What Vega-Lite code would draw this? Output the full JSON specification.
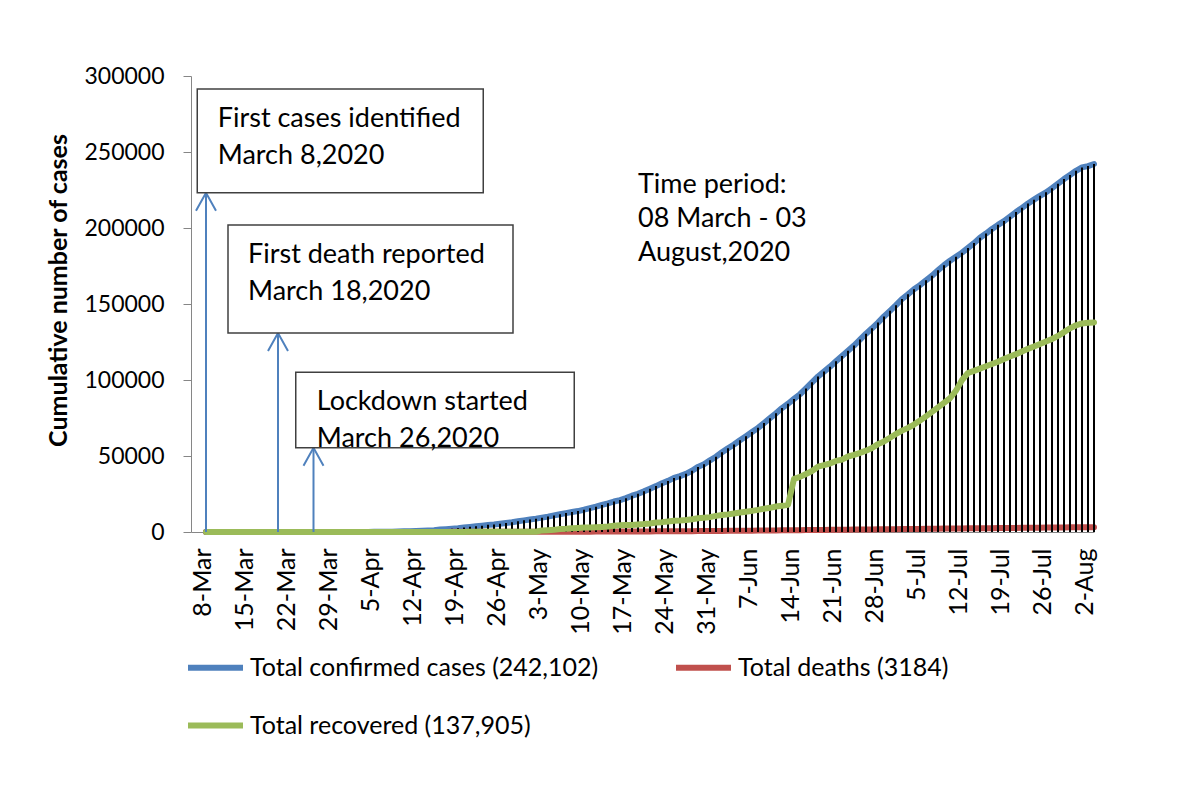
{
  "$schema": "https://vega.github.io/schema/vega-lite/v6.json",
  "width": 903,
  "height": 456,
  "autosize": {"type": "none"},
  "padding": {"left": 191, "top": 76, "right": 98, "bottom": 264},
  "background": "white",
  "config": {
    "font": "Lato",
    "view": {"stroke": null},
    "axis": {"labelFont": "Lato", "labelColor": "black", "domainColor": "#868686", "tickColor": "#868686", "grid": false}
  },
  "datasets": {
    "covid": [
      {"date":"2020-03-08","confirmed":3,"deaths":0,"recovered":0},
      {"date":"2020-03-09","confirmed":3,"deaths":0,"recovered":0},
      {"date":"2020-03-10","confirmed":3,"deaths":0,"recovered":0},
      {"date":"2020-03-11","confirmed":3,"deaths":0,"recovered":0},
      {"date":"2020-03-12","confirmed":3,"deaths":0,"recovered":0},
      {"date":"2020-03-13","confirmed":3,"deaths":0,"recovered":0},
      {"date":"2020-03-14","confirmed":3,"deaths":0,"recovered":0},
      {"date":"2020-03-15","confirmed":5,"deaths":0,"recovered":3},
      {"date":"2020-03-16","confirmed":8,"deaths":0,"recovered":3},
      {"date":"2020-03-17","confirmed":10,"deaths":0,"recovered":3},
      {"date":"2020-03-18","confirmed":14,"deaths":1,"recovered":3},
      {"date":"2020-03-19","confirmed":17,"deaths":1,"recovered":3},
      {"date":"2020-03-20","confirmed":20,"deaths":1,"recovered":3},
      {"date":"2020-03-21","confirmed":24,"deaths":2,"recovered":3},
      {"date":"2020-03-22","confirmed":27,"deaths":2,"recovered":3},
      {"date":"2020-03-23","confirmed":33,"deaths":3,"recovered":5},
      {"date":"2020-03-24","confirmed":39,"deaths":4,"recovered":7},
      {"date":"2020-03-25","confirmed":39,"deaths":5,"recovered":7},
      {"date":"2020-03-26","confirmed":44,"deaths":5,"recovered":11},
      {"date":"2020-03-27","confirmed":48,"deaths":5,"recovered":15},
      {"date":"2020-03-28","confirmed":48,"deaths":5,"recovered":15},
      {"date":"2020-03-29","confirmed":48,"deaths":5,"recovered":15},
      {"date":"2020-03-30","confirmed":49,"deaths":5,"recovered":19},
      {"date":"2020-03-31","confirmed":51,"deaths":5,"recovered":25},
      {"date":"2020-04-01","confirmed":54,"deaths":6,"recovered":25},
      {"date":"2020-04-02","confirmed":56,"deaths":6,"recovered":25},
      {"date":"2020-04-03","confirmed":61,"deaths":6,"recovered":26},
      {"date":"2020-04-04","confirmed":70,"deaths":8,"recovered":30},
      {"date":"2020-04-05","confirmed":88,"deaths":9,"recovered":33},
      {"date":"2020-04-06","confirmed":123,"deaths":12,"recovered":33},
      {"date":"2020-04-07","confirmed":164,"deaths":17,"recovered":33},
      {"date":"2020-04-08","confirmed":218,"deaths":20,"recovered":33},
      {"date":"2020-04-09","confirmed":330,"deaths":21,"recovered":33},
      {"date":"2020-04-10","confirmed":424,"deaths":27,"recovered":33},
      {"date":"2020-04-11","confirmed":482,"deaths":30,"recovered":36},
      {"date":"2020-04-12","confirmed":621,"deaths":34,"recovered":39},
      {"date":"2020-04-13","confirmed":803,"deaths":39,"recovered":42},
      {"date":"2020-04-14","confirmed":1012,"deaths":46,"recovered":42},
      {"date":"2020-04-15","confirmed":1231,"deaths":50,"recovered":49},
      {"date":"2020-04-16","confirmed":1572,"deaths":60,"recovered":49},
      {"date":"2020-04-17","confirmed":1838,"deaths":75,"recovered":58},
      {"date":"2020-04-18","confirmed":2144,"deaths":84,"recovered":66},
      {"date":"2020-04-19","confirmed":2456,"deaths":91,"recovered":75},
      {"date":"2020-04-20","confirmed":2948,"deaths":101,"recovered":75},
      {"date":"2020-04-21","confirmed":3382,"deaths":110,"recovered":85},
      {"date":"2020-04-22","confirmed":3772,"deaths":120,"recovered":92},
      {"date":"2020-04-23","confirmed":4186,"deaths":127,"recovered":108},
      {"date":"2020-04-24","confirmed":4689,"deaths":131,"recovered":112},
      {"date":"2020-04-25","confirmed":4998,"deaths":140,"recovered":113},
      {"date":"2020-04-26","confirmed":5416,"deaths":145,"recovered":122},
      {"date":"2020-04-27","confirmed":5913,"deaths":152,"recovered":131},
      {"date":"2020-04-28","confirmed":6462,"deaths":155,"recovered":150},
      {"date":"2020-04-29","confirmed":7103,"deaths":163,"recovered":150},
      {"date":"2020-04-30","confirmed":7667,"deaths":168,"recovered":160},
      {"date":"2020-05-01","confirmed":8238,"deaths":170,"recovered":174},
      {"date":"2020-05-02","confirmed":8790,"deaths":175,"recovered":177},
      {"date":"2020-05-03","confirmed":9455,"deaths":177,"recovered":1063},
      {"date":"2020-05-04","confirmed":10143,"deaths":182,"recovered":1210},
      {"date":"2020-05-05","confirmed":10929,"deaths":183,"recovered":1403},
      {"date":"2020-05-06","confirmed":11719,"deaths":186,"recovered":1910},
      {"date":"2020-05-07","confirmed":12425,"deaths":199,"recovered":2101},
      {"date":"2020-05-08","confirmed":13134,"deaths":206,"recovered":2414},
      {"date":"2020-05-09","confirmed":13770,"deaths":214,"recovered":2650},
      {"date":"2020-05-10","confirmed":14657,"deaths":228,"recovered":2902},
      {"date":"2020-05-11","confirmed":15691,"deaths":239,"recovered":2902},
      {"date":"2020-05-12","confirmed":16660,"deaths":250,"recovered":3147},
      {"date":"2020-05-13","confirmed":17822,"deaths":269,"recovered":3361},
      {"date":"2020-05-14","confirmed":18863,"deaths":283,"recovered":3586},
      {"date":"2020-05-15","confirmed":20065,"deaths":298,"recovered":4117},
      {"date":"2020-05-16","confirmed":20995,"deaths":314,"recovered":4373},
      {"date":"2020-05-17","confirmed":22268,"deaths":328,"recovered":4585},
      {"date":"2020-05-18","confirmed":23870,"deaths":349,"recovered":4585},
      {"date":"2020-05-19","confirmed":25121,"deaths":370,"recovered":4993},
      {"date":"2020-05-20","confirmed":26738,"deaths":386,"recovered":5207},
      {"date":"2020-05-21","confirmed":28511,"deaths":408,"recovered":5602},
      {"date":"2020-05-22","confirmed":30205,"deaths":432,"recovered":6190},
      {"date":"2020-05-23","confirmed":32078,"deaths":452,"recovered":6486},
      {"date":"2020-05-24","confirmed":33610,"deaths":480,"recovered":6901},
      {"date":"2020-05-25","confirmed":35585,"deaths":501,"recovered":7334},
      {"date":"2020-05-26","confirmed":36751,"deaths":522,"recovered":7579},
      {"date":"2020-05-27","confirmed":38292,"deaths":544,"recovered":7925},
      {"date":"2020-05-28","confirmed":40321,"deaths":559,"recovered":8425},
      {"date":"2020-05-29","confirmed":42844,"deaths":582,"recovered":9015},
      {"date":"2020-05-30","confirmed":44608,"deaths":610,"recovered":9375},
      {"date":"2020-05-31","confirmed":47153,"deaths":650,"recovered":9781},
      {"date":"2020-06-01","confirmed":49534,"deaths":672,"recovered":10597},
      {"date":"2020-06-02","confirmed":52445,"deaths":709,"recovered":11120},
      {"date":"2020-06-03","confirmed":55140,"deaths":746,"recovered":11590},
      {"date":"2020-06-04","confirmed":57563,"deaths":781,"recovered":12161},
      {"date":"2020-06-05","confirmed":60391,"deaths":811,"recovered":12804},
      {"date":"2020-06-06","confirmed":63026,"deaths":846,"recovered":13325},
      {"date":"2020-06-07","confirmed":65769,"deaths":888,"recovered":13903},
      {"date":"2020-06-08","confirmed":68504,"deaths":930,"recovered":14560},
      {"date":"2020-06-09","confirmed":71675,"deaths":975,"recovered":15337},
      {"date":"2020-06-10","confirmed":74865,"deaths":1012,"recovered":15899},
      {"date":"2020-06-11","confirmed":78052,"deaths":1049,"recovered":16748},
      {"date":"2020-06-12","confirmed":81523,"deaths":1095,"recovered":17249},
      {"date":"2020-06-13","confirmed":84379,"deaths":1139,"recovered":17827},
      {"date":"2020-06-14","confirmed":87520,"deaths":1171,"recovered":35000},
      {"date":"2020-06-15","confirmed":90619,"deaths":1209,"recovered":36264},
      {"date":"2020-06-16","confirmed":94481,"deaths":1262,"recovered":38189},
      {"date":"2020-06-17","confirmed":98489,"deaths":1305,"recovered":40164},
      {"date":"2020-06-18","confirmed":102292,"deaths":1343,"recovered":42945},
      {"date":"2020-06-19","confirmed":105535,"deaths":1388,"recovered":43993},
      {"date":"2020-06-20","confirmed":108775,"deaths":1425,"recovered":45077},
      {"date":"2020-06-21","confirmed":112306,"deaths":1464,"recovered":46755},
      {"date":"2020-06-22","confirmed":115786,"deaths":1502,"recovered":47635},
      {"date":"2020-06-23","confirmed":119198,"deaths":1545,"recovered":49666},
      {"date":"2020-06-24","confirmed":122660,"deaths":1582,"recovered":50800},
      {"date":"2020-06-25","confirmed":126606,"deaths":1621,"recovered":52100},
      {"date":"2020-06-26","confirmed":130474,"deaths":1661,"recovered":53500},
      {"date":"2020-06-27","confirmed":133978,"deaths":1695,"recovered":55300},
      {"date":"2020-06-28","confirmed":137787,"deaths":1738,"recovered":57800},
      {"date":"2020-06-29","confirmed":141801,"deaths":1783,"recovered":59600},
      {"date":"2020-06-30","confirmed":145483,"deaths":1847,"recovered":62000},
      {"date":"2020-07-01","confirmed":149258,"deaths":1888,"recovered":64500},
      {"date":"2020-07-02","confirmed":153277,"deaths":1926,"recovered":66700},
      {"date":"2020-07-03","confirmed":156391,"deaths":1968,"recovered":68500},
      {"date":"2020-07-04","confirmed":159679,"deaths":1997,"recovered":70700},
      {"date":"2020-07-05","confirmed":162417,"deaths":2052,"recovered":73300},
      {"date":"2020-07-06","confirmed":165618,"deaths":2096,"recovered":76100},
      {"date":"2020-07-07","confirmed":168645,"deaths":2151,"recovered":79000},
      {"date":"2020-07-08","confirmed":172134,"deaths":2197,"recovered":82000},
      {"date":"2020-07-09","confirmed":175494,"deaths":2238,"recovered":85000},
      {"date":"2020-07-10","confirmed":178443,"deaths":2275,"recovered":88000},
      {"date":"2020-07-11","confirmed":181129,"deaths":2305,"recovered":93000},
      {"date":"2020-07-12","confirmed":183795,"deaths":2352,"recovered":100000},
      {"date":"2020-07-13","confirmed":186894,"deaths":2391,"recovered":104600},
      {"date":"2020-07-14","confirmed":190057,"deaths":2424,"recovered":106000},
      {"date":"2020-07-15","confirmed":193590,"deaths":2457,"recovered":107500},
      {"date":"2020-07-16","confirmed":196323,"deaths":2496,"recovered":109000},
      {"date":"2020-07-17","confirmed":199357,"deaths":2547,"recovered":110500},
      {"date":"2020-07-18","confirmed":202066,"deaths":2581,"recovered":112000},
      {"date":"2020-07-19","confirmed":204525,"deaths":2618,"recovered":113800},
      {"date":"2020-07-20","confirmed":207453,"deaths":2651,"recovered":115500},
      {"date":"2020-07-21","confirmed":210510,"deaths":2709,"recovered":117000},
      {"date":"2020-07-22","confirmed":213254,"deaths":2751,"recovered":118800},
      {"date":"2020-07-23","confirmed":216110,"deaths":2801,"recovered":120500},
      {"date":"2020-07-24","confirmed":218658,"deaths":2836,"recovered":122000},
      {"date":"2020-07-25","confirmed":221178,"deaths":2874,"recovered":123700},
      {"date":"2020-07-26","confirmed":223453,"deaths":2928,"recovered":125300},
      {"date":"2020-07-27","confirmed":226225,"deaths":2965,"recovered":127000},
      {"date":"2020-07-28","confirmed":229185,"deaths":3000,"recovered":129000},
      {"date":"2020-07-29","confirmed":232194,"deaths":3035,"recovered":131500},
      {"date":"2020-07-30","confirmed":234889,"deaths":3082,"recovered":134000},
      {"date":"2020-07-31","confirmed":237661,"deaths":3111,"recovered":136000},
      {"date":"2020-08-01","confirmed":239860,"deaths":3132,"recovered":137200},
      {"date":"2020-08-02","confirmed":240746,"deaths":3154,"recovered":137600},
      {"date":"2020-08-03","confirmed":242102,"deaths":3184,"recovered":137905}
    ],
    "boxes": [
      {"date":"2020-03-06T13:00:00Z","date2":"2020-04-23T05:00:00Z","value":291450,"value2":223230},
      {"date":"2020-03-11T16:00:00Z","date2":"2020-04-28T04:00:00Z","value":201970,"value2":130920},
      {"date":"2020-03-22T23:00:00Z","date2":"2020-05-08T09:00:00Z","value":105070,"value2":55460}
    ],
    "arrows": [
      {"date":"2020-03-08T00:00:00Z","value":223230},
      {"date":"2020-03-20T00:00:00Z","value":130920},
      {"date":"2020-03-25T22:00:00Z","value":55460}
    ],
    "notes": [
      {"date":"2020-03-09T23:00:00Z","value":266650,"label":"First cases identified\nMarch 8,2020"},
      {"date":"2020-03-15T00:00:00Z","value":177170,"label":"First death reported\nMarch 18,2020"},
      {"date":"2020-03-26T11:00:00Z","value":80260,"label":"Lockdown started\nMarch 26,2020"}
    ],
    "period": [
      {"date":"2020-05-19T00:00:00Z","value":223030,"label":"Time period:\n08 March - 03\nAugust,2020"}
    ]
  },
  "encoding": {
    "x": {
      "field": "date", "type": "temporal",
      "scale": {"type": "utc", "domain": [{"year":2020,"month":3,"date":5,"hours":12,"utc":true},{"year":2020,"month":8,"date":3,"utc":true}]},
      "axis": {"title": null, "format": "%-d-%b", "labelAngle": -90, "labelFontSize": 25, "ticks": false, "labelPadding": 16, "labelOffset": -4, "tickCount": {"interval": "week", "step": 1}, "labelOverlap": false, "labelFlush": false}
    },
    "y": {
      "field": "value", "type": "quantitative",
      "scale": {"domain": [0, 300000], "nice": false},
      "axis": {"title": "Cumulative number of cases", "titleFont": "Lato", "titleFontSize": 25, "titleFontWeight": "bold", "titleColor": "black", "titlePadding": 12, "titleY": 214, "values": [0,50000,100000,150000,200000,250000,300000], "format": "d", "labelFontSize": 23, "tickSize": 8, "labelPadding": 19}
    }
  },
  "layer": [
    {
      "data": {"name": "covid"},
      "transform": [{"fold": ["confirmed", "deaths"]}],
      "mark": {"type": "line", "strokeWidth": 6, "strokeCap": "round", "strokeJoin": "round"},
      "encoding": {
        "color": {
          "field": "key", "type": "nominal",
          "scale": {"domain": ["confirmed", "deaths", "recovered"], "range": ["#4F81BD", "#C0504D", "#9BBB59"]},
          "legend": {"orient": "none", "legendX": -6, "legendY": 561, "direction": "horizontal", "columns": 2, "title": null, "symbolType": "stroke", "symbolSize": 3025, "symbolStrokeWidth": 6, "labelFontSize": 25, "labelFont": "Lato", "labelColor": "black", "labelLimit": 500, "labelOffset": 4, "columnPadding": 65, "rowPadding": 14,
            "labelExpr": "datum.label == 'confirmed' ? 'Total confirmed cases (242,102)' : datum.label == 'deaths' ? 'Total deaths (3184)' : 'Total recovered (137,905)'"}
        }
      }
    },
    {
      "data": {"name": "covid"},
      "transform": [{"fold": ["confirmed"]}],
      "mark": {"type": "rule", "color": "black", "strokeWidth": 2},
      "encoding": {"y2": {"datum": 0}}
    },
    {
      "data": {"name": "covid"},
      "transform": [{"fold": ["recovered"]}],
      "mark": {"type": "line", "strokeWidth": 6, "strokeCap": "round", "strokeJoin": "round"},
      "encoding": {
        "color": {
          "field": "key", "type": "nominal",
          "scale": {"domain": ["confirmed", "deaths", "recovered"], "range": ["#4F81BD", "#C0504D", "#9BBB59"]},
          "legend": {"orient": "none", "legendX": -6, "legendY": 561, "direction": "horizontal", "columns": 2, "title": null, "symbolType": "stroke", "symbolSize": 3025, "symbolStrokeWidth": 6, "labelFontSize": 25, "labelFont": "Lato", "labelColor": "black", "labelLimit": 500, "labelOffset": 4, "columnPadding": 65, "rowPadding": 14,
            "labelExpr": "datum.label == 'confirmed' ? 'Total confirmed cases (242,102)' : datum.label == 'deaths' ? 'Total deaths (3184)' : 'Total recovered (137,905)'"}
        }
      }
    },
    {
      "data": {"name": "arrows"},
      "mark": {"type": "rule", "color": "#4F81BD", "strokeWidth": 2},
      "encoding": {"y2": {"datum": 0}}
    },
    {
      "data": {"name": "arrows"},
      "mark": {"type": "point", "shape": "M-1,1.8L0,0L1,1.8", "filled": false, "color": "#4F81BD", "strokeWidth": 2, "size": 400, "opacity": 1}
    },
    {
      "data": {"name": "boxes"},
      "mark": {"type": "rect", "fill": "white", "stroke": "#404040", "strokeWidth": 1.5},
      "encoding": {"x2": {"field": "date2"}, "y2": {"field": "value2"}}
    },
    {
      "data": {"name": "notes"},
      "mark": {"type": "text", "align": "left", "baseline": "alphabetic", "fontSize": 27, "font": "Lato", "color": "black", "lineBreak": "\n", "lineHeight": 37},
      "encoding": {"text": {"field": "label"}}
    },
    {
      "data": {"name": "period"},
      "mark": {"type": "text", "align": "left", "baseline": "alphabetic", "fontSize": 27, "font": "Lato", "color": "black", "lineBreak": "\n", "lineHeight": 34},
      "encoding": {"text": {"field": "label"}}
    }
  ]
}
